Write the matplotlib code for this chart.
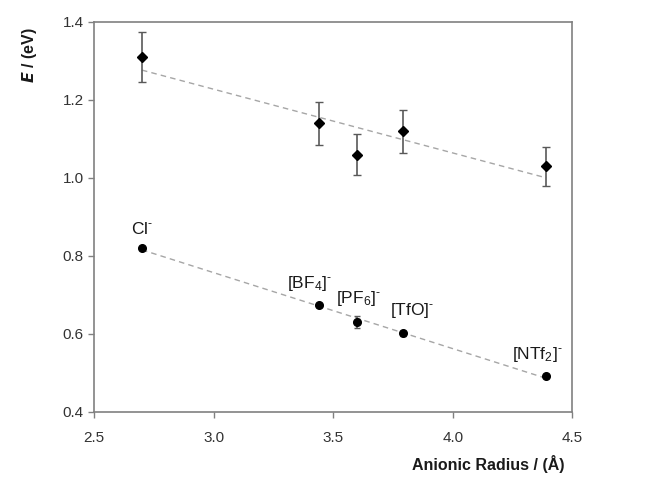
import numpy as np
import matplotlib
matplotlib.use("Agg")
import matplotlib.pyplot as plt

plt.rcParams['font.family'] = ['Liberation Sans', 'DejaVu Sans']
plt.rcParams['mathtext.fontset'] = 'custom'
plt.rcParams['mathtext.rm'] = 'Liberation Sans'
plt.rcParams['mathtext.it'] = 'Liberation Sans:italic'
plt.rcParams['mathtext.bf'] = 'Liberation Sans:bold'

# Data
anions = ["Cl$^{\\text{-}}$", "[BF$_4$]$^{\\text{-}}$", "[PF$_6$]$^{\\text{-}}$",
          "[TfO]$^{\\text{-}}$", "[NTf$_2$]$^{\\text{-}}$"]
radius = [2.70, 3.44, 3.60, 3.79, 4.39]
E_upper = [1.31, 1.14, 1.06, 1.12, 1.03]
E_upper_err = [0.065, 0.055, 0.053, 0.055, 0.05]
E_lower = [0.82, 0.673, 0.630, 0.601, 0.492]
E_lower_err = [0.004, 0.004, 0.015, 0.006, 0.004]
xticks = [2.5, 3.0, 3.5, 4.0, 4.5]
yticks = [0.4, 0.6, 0.8, 1.0, 1.2, 1.4]

# label offsets in points (dx, dy)
label_offsets = [(0, 8), (-7, 9), (1, 10), (7, 10), (-6, 9)]

fig = plt.figure(figsize=(6.58, 4.88), dpi=100)
ax = fig.add_axes([0.143, 0.156, 0.727, 0.799])

x = np.array(radius)
for yv in (E_upper, E_lower):
    p = np.polyfit(x, yv, 1)
    xs = np.array([x.min(), x.max()])
    ax.plot(xs, np.polyval(p, xs), ls=(0, (4, 3)), color='#a6a6a6', lw=1.0, zorder=1)

ax.errorbar(radius, E_upper, yerr=E_upper_err, fmt='D', color='black', ms=5.5,
            ecolor='#595959', elinewidth=1.2, capsize=3, capthick=1.0, zorder=3)
ax.errorbar(radius, E_lower, yerr=E_lower_err, fmt='o', color='black', ms=5.5,
            ecolor='#595959', elinewidth=1.2, capsize=2, capthick=1.0, zorder=3)

for name, xv, yv, (dx, dy) in zip(anions, radius, E_lower, label_offsets):
    ax.annotate(name, (xv, yv), xytext=(dx, dy), textcoords='offset points',
                ha='center', va='bottom', fontsize=12.5, color='#1a1a1a')

ax.set_xlim(2.5, 4.5)
ax.set_ylim(0.4, 1.4)
ax.set_xticks(xticks)
ax.set_yticks(yticks)
ax.set_xticklabels([f"{t:.1f}" for t in xticks])
ax.set_yticklabels([f"{t:.1f}" for t in yticks])
for s in ax.spines.values():
    s.set_color('#808080')
    s.set_linewidth(1.2)
ax.tick_params(axis='both', colors='#808080', labelcolor='#333333', labelsize=11,
               length=4, width=1)
ax.tick_params(axis='x', pad=10)

fig.text(0.858, 0.03, "Anionic Radius / (Å)", ha='right', va='bottom',
         fontsize=11.5, fontweight='bold', color='#1a1a1a')
fig.text(0.03, 0.945, "$\\boldsymbol{E}$ / (eV)", rotation=90, ha='left', va='top',
         fontsize=11.5, fontweight='bold', color='#1a1a1a')

fig.savefig("out.png", dpi=100)
